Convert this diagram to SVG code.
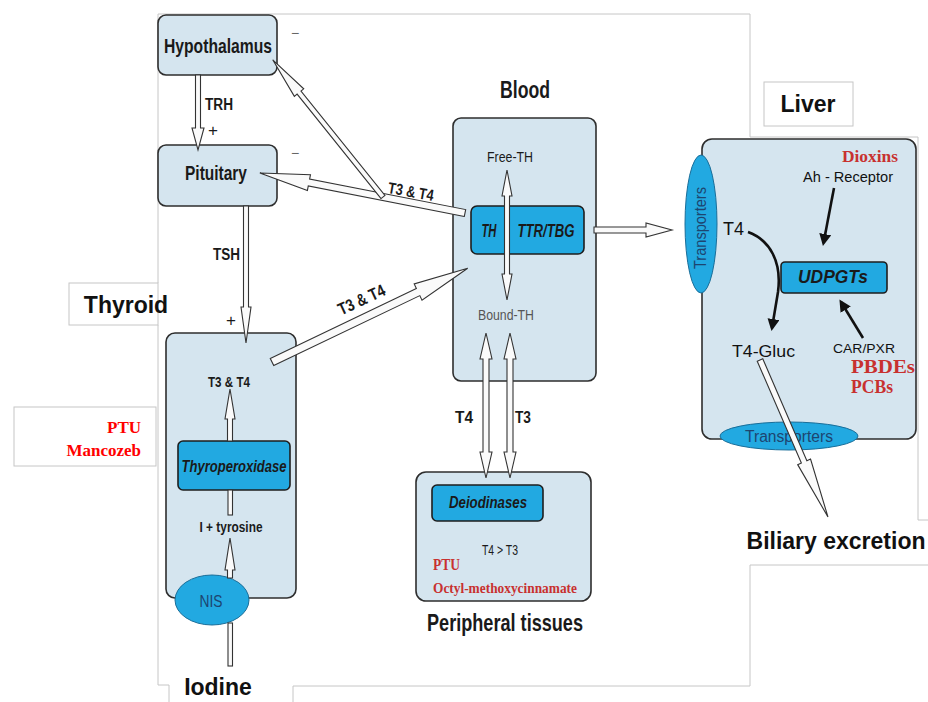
<svg xmlns="http://www.w3.org/2000/svg" width="928" height="702" viewBox="0 0 928 702">
<defs>
<style>
.frame{fill:none;stroke:#c6c6c6;stroke-width:1}
.box{fill:#d5e5ef;stroke:#2e2e2e;stroke-width:1.6}
.inner{fill:#22a9e1;stroke:#1e1e1e;stroke-width:1.6}
.ell{fill:#22a9e1;stroke:#1a6e99;stroke-width:1}
.ha{fill:#fafafa;stroke:#333;stroke-width:1.1;stroke-linejoin:miter}
.ba{fill:none;stroke:#111;stroke-width:2.6}
.n{font-family:"Liberation Sans Narrow","Liberation Sans",Arial,sans-serif;fill:#1a1a1a}
.s{font-family:"Liberation Sans",Arial,sans-serif;fill:#111}
.b{font-weight:bold}
.i{font-style:italic}
.r{font-family:"Liberation Serif","Times New Roman",serif;font-weight:bold;fill:#c8312f}
.m{text-anchor:middle}
.blue{fill:#1d4570}
</style>
<marker id="ah" viewBox="0 0 12 12" markerWidth="12" markerHeight="12" refX="9" refY="6" orient="auto" markerUnits="userSpaceOnUse">
<path d="M0,0 L12,6 L0,12 z" fill="#111"/>
</marker>
</defs>
<rect width="928" height="702" fill="#fff"/>

<g id="frames">
<polyline class="frame" points="158,283 158,14 750,14 750,137 918,137 918,520 928,520"/>
<polyline class="frame" points="158,325 158,685 169,685 169,702"/>
<polyline class="frame" points="293,702 293,686 750,686 750,565 928,565"/>
<rect class="frame" x="69" y="283" width="89" height="42"/>
<rect class="frame" x="14" y="407" width="142" height="59"/>
<rect class="frame" x="764" y="82" width="89" height="44"/>
</g>

<g id="labels">
<text class="s b m" x="126" y="313" font-size="23">Thyroid</text>
<text class="r" x="141" y="433" font-size="17" text-anchor="end" style="fill:#f00">PTU</text>
<text class="r" x="141" y="456" font-size="17" text-anchor="end" style="fill:#f00">Mancozeb</text>
<text class="s b m" x="808" y="112" font-size="23">Liver</text>
<text class="s b m" x="836" y="549" font-size="23">Biliary excretion</text>
<text class="s b m" x="218" y="695" font-size="23">Iodine</text>
<text class="n b m" x="525" y="98" font-size="24" textLength="50" lengthAdjust="spacingAndGlyphs">Blood</text>
<text class="n b m" x="505" y="631" font-size="24" textLength="156" lengthAdjust="spacingAndGlyphs">Peripheral tissues</text>
<text class="n m" x="295" y="38" font-size="14" style="fill:#666">−</text>
<text class="n m" x="295" y="158" font-size="14" style="fill:#666">−</text>
<text class="n b" x="205" y="110" font-size="16" textLength="28" lengthAdjust="spacingAndGlyphs">TRH</text>
<text class="n m" x="213" y="136" font-size="17">+</text>
<text class="n b" x="213" y="260" font-size="16" textLength="27" lengthAdjust="spacingAndGlyphs">TSH</text>
<text class="n m" x="231" y="326" font-size="17">+</text>
<text class="n b m" x="0" y="0" font-size="16" textLength="46" lengthAdjust="spacingAndGlyphs" transform="translate(410,197) rotate(10)">T3 &amp; T4</text>
<text class="n b m" x="0" y="0" font-size="17" textLength="50" lengthAdjust="spacingAndGlyphs" transform="translate(364,305) rotate(-25)">T3 &amp; T4</text>
<text class="n b" x="455" y="423" font-size="17" textLength="18" lengthAdjust="spacingAndGlyphs">T4</text>
<text class="n b" x="515" y="423" font-size="17" textLength="16" lengthAdjust="spacingAndGlyphs">T3</text>
</g>

<g id="hypothalamus">
<rect class="box" x="158" y="15" width="119" height="60" rx="8"/>
<text class="n b m" x="218" y="53" font-size="21" textLength="108" lengthAdjust="spacingAndGlyphs">Hypothalamus</text>
</g>

<g id="pituitary">
<rect class="box" x="158" y="145" width="119" height="61" rx="8"/>
<text class="n b m" x="216" y="180" font-size="21" textLength="62" lengthAdjust="spacingAndGlyphs">Pituitary</text>
</g>

<g id="thyroid">
<rect class="box" x="166" y="333" width="130" height="265" rx="9"/>
<text class="n b m" x="229" y="387" font-size="15" textLength="42" lengthAdjust="spacingAndGlyphs">T3 &amp; T4</text>
<rect class="inner" x="178" y="441" width="112" height="49" rx="5"/>
<text class="n b i m" x="234" y="472" font-size="17" textLength="105" lengthAdjust="spacingAndGlyphs">Thyroperoxidase</text>
<text class="n b m" x="231" y="532" font-size="15" textLength="63" lengthAdjust="spacingAndGlyphs">I + tyrosine</text>
</g>

<g id="nis">
<ellipse class="ell" cx="212" cy="600" rx="37" ry="25"/>
<text class="n m blue" x="211" y="607" font-size="17" textLength="23" lengthAdjust="spacingAndGlyphs">NIS</text>
</g>

<g id="blood">
<rect class="box" x="453" y="118" width="143" height="263" rx="8"/>
<text class="n m" x="510" y="162" font-size="15" textLength="46" lengthAdjust="spacingAndGlyphs">Free-TH</text>
<rect class="inner" x="471" y="206" width="113" height="48" rx="6"/>
<text class="n b i m" x="489" y="237" font-size="18" textLength="15" lengthAdjust="spacingAndGlyphs">TH</text>
<text class="n b i m" x="546" y="237" font-size="18" textLength="57" lengthAdjust="spacingAndGlyphs">TTR/TBG</text>
<text class="n m" x="506" y="320" font-size="15" textLength="56" lengthAdjust="spacingAndGlyphs" style="fill:#555">Bound-TH</text>
</g>

<g id="peripheral">
<rect class="box" x="416" y="472" width="175" height="129" rx="10"/>
<rect class="inner" x="432" y="485" width="111" height="36" rx="5"/>
<text class="n b i m" x="488" y="508" font-size="17" textLength="78" lengthAdjust="spacingAndGlyphs">Deiodinases</text>
<text class="n m" x="500" y="555" font-size="14" textLength="36" lengthAdjust="spacingAndGlyphs">T4 &gt; T3</text>
<text class="r" x="433" y="570" font-size="16" textLength="27" lengthAdjust="spacingAndGlyphs">PTU</text>
<text class="r" x="433" y="593" font-size="15" textLength="144" lengthAdjust="spacingAndGlyphs">Octyl-methoxycinnamate</text>
</g>

<g id="liver">
<rect class="box" x="702" y="139" width="214" height="300" rx="10"/>
<text class="r" x="842" y="162" font-size="16" textLength="56" lengthAdjust="spacingAndGlyphs">Dioxins</text>
<text class="s" x="803" y="182" font-size="14" textLength="90" lengthAdjust="spacingAndGlyphs">Ah - Receptor</text>
<text class="s" x="723" y="235" font-size="19" textLength="21" lengthAdjust="spacingAndGlyphs">T4</text>
<rect class="inner" x="781" y="262" width="106" height="31" rx="4"/>
<text class="n b i m" x="833" y="283" font-size="18" textLength="70" lengthAdjust="spacingAndGlyphs">UDPGTs</text>
<text class="s" x="833" y="353" font-size="13" textLength="62" lengthAdjust="spacingAndGlyphs">CAR/PXR</text>
<text class="r" x="851" y="373" font-size="18" textLength="64" lengthAdjust="spacingAndGlyphs">PBDEs</text>
<text class="r" x="851" y="393" font-size="18" textLength="42" lengthAdjust="spacingAndGlyphs">PCBs</text>
<text class="s" x="732" y="357" font-size="17" textLength="63" lengthAdjust="spacingAndGlyphs">T4-Gluc</text>
</g>

<g id="transporters-in">
<ellipse class="ell" cx="701" cy="224" rx="16" ry="69"/>
<text class="n m blue" x="0" y="0" font-size="16" textLength="82" lengthAdjust="spacingAndGlyphs" transform="translate(706,228) rotate(-90)">Transporters</text>
</g>

<g id="transporters-out">
<ellipse class="ell" cx="789" cy="436" rx="69" ry="14"/>
<text class="n m blue" x="789" y="442" font-size="16" textLength="88" lengthAdjust="spacingAndGlyphs">Transporters</text>
</g>

<g id="connectors">
<polygon class="ha" transform="translate(198,75) rotate(90)" points="0,-2.5 53,-2.5 53,-6 75,0 53,6 53,2.5 0,2.5"/>
<polygon class="ha" transform="translate(246,206) rotate(90)" points="0,-2.5 101,-2.5 101,-5 137,0 101,5 101,2.5 0,2.5"/>
<polygon class="ha" transform="translate(465,213) rotate(-168.96)" points="0,-3.5 159,-3.5 159,-8 209,0 159,8 159,3.5 0,3.5"/>
<polygon class="ha" transform="translate(383,197) rotate(-128.8)" points="0,-2.5 134,-2.5 134,-6 176,0 134,6 134,2.5 0,2.5"/>
<polygon class="ha" transform="translate(272,362) rotate(-25.6)" points="0,-4 162,-4 162,-9 217,0 162,9 162,4 0,4"/>
<polygon class="ha" transform="translate(594,230)" points="0,-3 52,-3 52,-7 78,0 52,7 52,3 0,3"/>
<polygon class="ha" transform="translate(507,170) rotate(90)" points="26,-2.5 104,-2.5 104,-5 130,0 104,5 104,2.5 26,2.5 26,5 0,0 26,-5"/>
<polygon class="ha" transform="translate(486,333) rotate(90)" points="26,-3 119,-3 119,-6 145,0 119,6 119,3 26,3 26,6 0,0 26,-6"/>
<polygon class="ha" transform="translate(510,333) rotate(90)" points="26,-3 119,-3 119,-6 145,0 119,6 119,3 26,3 26,6 0,0 26,-6"/>
<polygon class="ha" transform="translate(230,441) rotate(-90)" points="0,-2.5 22,-2.5 22,-5 52,0 22,5 22,2.5 0,2.5"/>
<polygon class="ha" transform="translate(230,578) rotate(-90)" points="0,-2.5 8,-2.5 8,-5 40,0 8,5 8,2.5 0,2.5"/>
<rect class="ha" x="228" y="490" width="4.5" height="25"/>
<rect class="ha" x="228" y="623" width="4.5" height="43"/>
<polygon class="ha" transform="translate(760,360) rotate(66.58)" points="0,-3 111,-3 111,-7 171,0 111,7 111,3 0,3"/>
<path class="ba" d="M748,232 C770,240 782,262 778,292 L772,328" marker-end="url(#ah)"/>
<line class="ba" x1="834" y1="188" x2="823.5" y2="243" marker-end="url(#ah)"/>
<line class="ba" x1="863" y1="338" x2="841" y2="302" marker-end="url(#ah)"/>
</g>
</svg>
